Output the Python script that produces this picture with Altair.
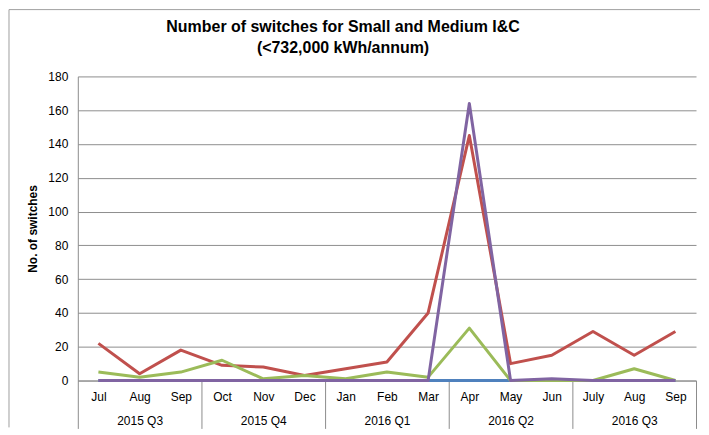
import altair as alt
import pandas as pd

months = ["Jul", "Aug", "Sep", "Oct", "Nov", "Dec", "Jan", "Feb", "Mar",
          "Apr", "May", "Jun", "July", "Aug", "Sep"]
quarters = ["2015 Q3", "2015 Q3", "2015 Q3", "2015 Q4", "2015 Q4", "2015 Q4",
            "2016 Q1", "2016 Q1", "2016 Q1", "2016 Q2", "2016 Q2", "2016 Q2",
            "2016 Q3", "2016 Q3", "2016 Q3"]
quarter_names = ["2015 Q3", "2015 Q4", "2016 Q1", "2016 Q2", "2016 Q3"]

series_names = ["Series 1", "Series 2", "Series 3", "Series 4"]
series_colors = ["#4F81BD", "#C0504D", "#9BBB59", "#8064A2"]
series_1 = [0, 0, 0, 0, 0, 0, 0, 0, 0, 0, 0, 0, 0, 0, 0]
series_2 = [22, 4, 18, 9, 8, 3, 7, 11, 40, 145, 10, 15, 29, 15, 29]
series_3 = [5, 2, 5, 12, 1, 3, 1, 5, 2, 31, 0, 0, 0, 7, 0]
series_4 = [0, 0, 0, 0, 0, 0, 0, 0, 0, 164, 0, 1, 0, 0, 0]

y_ticks = [0, 20, 40, 60, 80, 100, 120, 140, 160, 180]

keys = [f"{m} {q}" for m, q in zip(months, quarters)]
rows = []
for name, vals in zip(series_names, [series_1, series_2, series_3, series_4]):
    for k, v in zip(keys, vals):
        rows.append({"key": k, "series": name, "value": v})
df = pd.DataFrame(rows)
qdf = pd.DataFrame({"quarter": quarter_names})
frame_df = pd.DataFrame({"edge": ["top", "left"]})

FONT = "Liberation Sans"
GRID = "#8E8E8E"
AXIS = "#8C8C8C"

lines = alt.Chart(df).mark_line(strokeWidth=3, strokeJoin="round").encode(
    x=alt.X("key:N", sort=keys,
            scale=alt.Scale(type="point", padding=0.5),
            axis=alt.Axis(labelExpr="split(datum.value, ' ')[0]", labelAngle=0,
                          ticks=False, domain=True, domainColor=AXIS, grid=False,
                          labelPadding=11, labelFontSize=12, labelFont=FONT,
                          labelColor="#000000", title=None, offset=0)),
    y=alt.Y("value:Q", scale=alt.Scale(domain=[0, 180], nice=False),
            axis=alt.Axis(values=y_ticks, title="No. of switches", ticks=False,
                          domain=True, domainColor=AXIS, grid=True, gridColor=GRID,
                          labelPadding=10, labelFontSize=12, labelFont=FONT,
                          labelColor="#000000", titleFont=FONT, titleFontSize=12,
                          titleFontWeight="bold", titleColor="#000000",
                          titlePadding=8)),
    color=alt.Color("series:N", scale=alt.Scale(domain=series_names, range=series_colors),
                    legend=None),
)

quarter_axis = alt.Chart(qdf).mark_tick(opacity=0).encode(
    x=alt.X("quarter:N", sort=quarter_names,
            scale=alt.Scale(type="band", paddingInner=0, paddingOuter=0),
            axis=alt.Axis(orient="bottom", tickBand="extent", ticks=True, tickSize=48,
                          tickColor=AXIS, domain=False, labelAngle=0, labelPadding=-13,
                          labelBaseline="top", labelFontSize=12, labelFont=FONT,
                          labelColor="#000000", title=None, offset=0, grid=False)),
)

# outer chart frame (top and left edges)
frame_top = alt.Chart(frame_df).transform_filter("datum.edge == 'top'").mark_rule(
    color="#A0A0A0", strokeWidth=1).encode(
    x=alt.value(-69), x2=alt.value(624), y=alt.value(-67))
frame_left = alt.Chart(frame_df).transform_filter("datum.edge == 'left'").mark_rule(
    color="#A0A0A0", strokeWidth=1).encode(
    x=alt.value(-69), y=alt.value(-67), y2=alt.value(352))

chart = alt.layer(frame_top, frame_left, lines, quarter_axis).resolve_scale(
    x="independent").properties(
    width=620, height=305,
    title=alt.TitleParams(["Number of switches for Small and Medium I&C",
                           "(<732,000 kWh/annum)"],
                          font=FONT, fontSize=16, fontWeight="bold", color="#000000",
                          anchor="middle", dx=-44, offset=-47, lineHeight=21),
    padding={"left": 0, "top": 0, "right": 0, "bottom": 0},
).configure_view(stroke=None)

chart.save("out.html", embed_options={"renderer": "svg", "actions": False})
